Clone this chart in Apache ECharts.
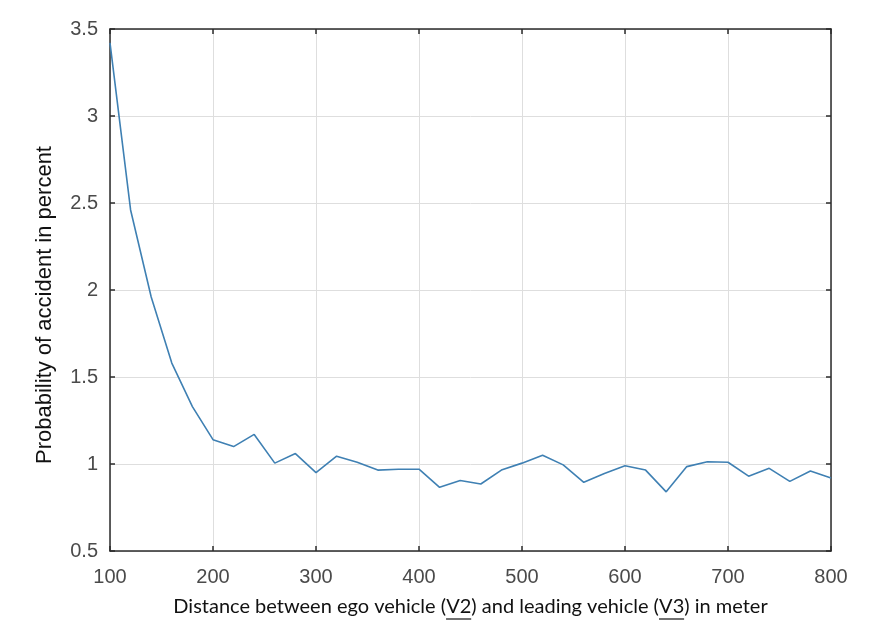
<!DOCTYPE html>
<html>
<head>
<meta charset="utf-8">
<script src="https://cdn.jsdelivr.net/npm/echarts@6/dist/echarts.min.js"></script>
<style>
  html, body { margin: 0; padding: 0; background: #fff; }
  #chart { width: 871px; height: 630px; }
</style>
</head>
<body>
<div id="chart"></div>
<script>
// distance (m) between ego vehicle and leading vehicle
const distances = [100, 120, 140, 160, 180, 200, 220, 240, 260, 280, 300, 320,
  340, 360, 380, 400, 420, 440, 460, 480, 500, 520, 540, 560,
  580, 600, 620, 640, 660, 680, 700, 720, 740, 760, 780, 800]
// probability of accident, percent
const probability = [3.42, 2.46, 1.96, 1.58, 1.33, 1.14, 1.10, 1.17, 1.005, 1.06, 0.95, 1.045,
  1.01, 0.965, 0.97, 0.97, 0.866, 0.905, 0.885, 0.965, 1.005, 1.05, 0.995, 0.895,
  0.946, 0.99, 0.965, 0.84, 0.985, 1.013, 1.01, 0.93, 0.975, 0.90, 0.96, 0.92]
const xTicks = [100, 800, 100]   // min, max, step
const yTicks = [0.5, 3.5, 0.5]

const xName = 'Distance between ego vehicle (V2) and leading vehicle (V3) in meter'
const yName = 'Probability of accident in percent'

const chart = echarts.init(document.getElementById('chart'))

const grid = { left: 110, top: 29, right: 40, bottom: 79 }
const axisColor = '#2b2b2b'
const tickFont = { fontFamily: 'Liberation Sans', fontSize: 20, color: '#4a4a4a' }

const points = distances.map((d, i) => [d, probability[i]])

// underline V2 / V3 like the original label
const xFont = '20px Lato'
function underlines() {
  const ctx = document.createElement('canvas').getContext('2d')
  ctx.font = xFont
  const total = ctx.measureText(xName).width
  const cx = grid.left + (871 - grid.left - grid.right) / 2
  const start = cx - total / 2
  const y = 619
  const out = []
  ;['V2', 'V3'].forEach(t => {
    const idx = xName.indexOf(t)
    const off = ctx.measureText(xName.slice(0, idx)).width
    const w = ctx.measureText(t).width
    out.push({
      type: 'line',
      shape: { x1: start + off, y1: y, x2: start + off + w, y2: y },
      style: { stroke: '#111', lineWidth: 1.2 }
    })
  })
  return out
}

chart.setOption({
  backgroundColor: '#fff',
  animation: false,
  grid: grid,
  xAxis: [{
    type: 'value',
    min: xTicks[0], max: xTicks[1], interval: xTicks[2],
    name: xName,
    nameLocation: 'middle',
    nameGap: 46,
    nameTextStyle: { fontFamily: 'Lato', fontSize: 20, color: '#111' },
    axisLine: { show: true, onZero: false, lineStyle: { color: axisColor, width: 1.5 } },
    axisTick: { show: true, inside: true, length: 5, lineStyle: { color: axisColor, width: 1.5 } },
    axisLabel: Object.assign({ margin: 16 }, tickFont),
    splitLine: { show: true, lineStyle: { color: '#dedede', width: 1 } }
  }, {
    type: 'value', position: 'top',
    min: xTicks[0], max: xTicks[1], interval: xTicks[2],
    axisLine: { show: true, onZero: false, lineStyle: { color: axisColor, width: 1.5 } },
    axisTick: { show: true, inside: true, length: 5, lineStyle: { color: axisColor, width: 1.5 } },
    axisLabel: { show: false },
    splitLine: { show: false }
  }],
  yAxis: [{
    type: 'value',
    min: yTicks[0], max: yTicks[1], interval: yTicks[2],
    name: yName,
    nameLocation: 'middle',
    nameRotate: 90,
    nameGap: 54,
    nameTextStyle: { fontFamily: 'Liberation Sans', fontSize: 22, color: '#111', padding: [0, 30, 0, 0] },
    axisLine: { show: true, onZero: false, lineStyle: { color: axisColor, width: 1.5 } },
    axisTick: { show: true, inside: true, length: 5, lineStyle: { color: axisColor, width: 1.5 } },
    axisLabel: Object.assign({ margin: 12 }, tickFont),
    splitLine: { show: true, lineStyle: { color: '#dedede', width: 1 } }
  }, {
    type: 'value', position: 'right',
    min: yTicks[0], max: yTicks[1], interval: yTicks[2],
    axisLine: { show: true, onZero: false, lineStyle: { color: axisColor, width: 1.5 } },
    axisTick: { show: true, inside: true, length: 5, lineStyle: { color: axisColor, width: 1.5 } },
    axisLabel: { show: false },
    splitLine: { show: false }
  }],
  series: [{
    type: 'line',
    data: points,
    showSymbol: false,
    lineStyle: { color: '#3f80b3', width: 1.6 },
    itemStyle: { color: '#3f80b3' }
  }]
})

// measure only once Lato is really available, otherwise widths come from a fallback font
document.fonts.load(xFont, xName).then(() => {
  chart.setOption({ graphic: underlines() })
})
</script>
</body>
</html>
